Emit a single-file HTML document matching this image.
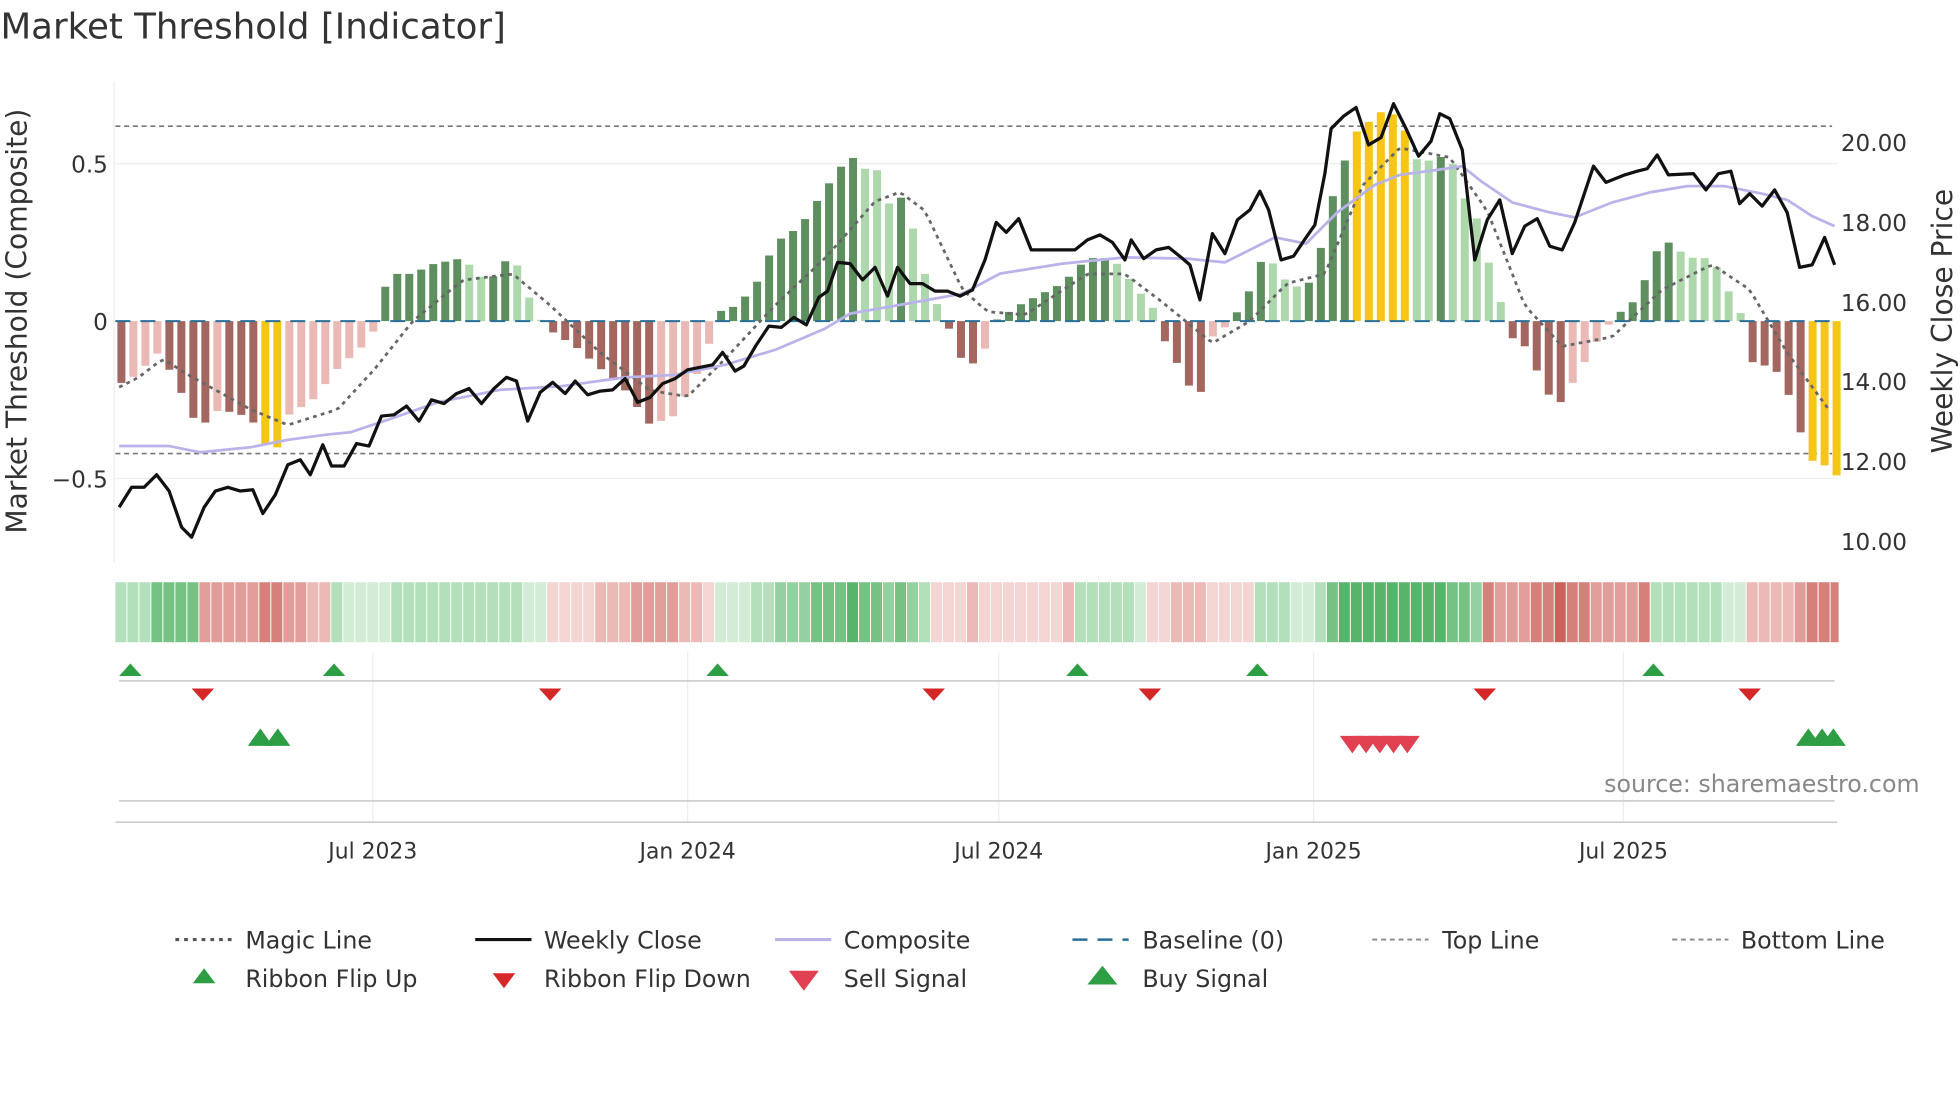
<!DOCTYPE html>
<html><head><meta charset="utf-8"><style>
html,body{margin:0;padding:0;background:#fff;}
svg{display:block;font-family:"DejaVu Sans","Liberation Sans",sans-serif;}
</style></head><body>
<svg id="s" width="1960" height="1102" viewBox="0 0 1568 882" xmlns="http://www.w3.org/2000/svg">
<rect width="1568" height="882" fill="#fff"/>
<text x="0" y="31" font-size="28.5" fill="#333">Market Threshold [Indicator]</text>
<g id="grid"></g>
<g id="bars"></g>
<g id="lines"></g>
<g id="rib"></g>
<g id="sig"></g>
<g font-size="18.5" fill="#333">
<text x="86" y="138" text-anchor="end">0.5</text>
<text x="86" y="264" text-anchor="end">0</text>
<text x="86" y="390" text-anchor="end">−0.5</text>
<text x="1473" y="121">20.00</text>
<text x="1473" y="185">18.00</text>
<text x="1473" y="249">16.00</text>
<text x="1473" y="312">14.00</text>
<text x="1473" y="376">12.00</text>
<text x="1473" y="440">10.00</text>
<text transform="translate(21,257) rotate(-90)" text-anchor="middle" font-size="22.5">Market Threshold (Composite)</text>
<text transform="translate(1562,257) rotate(-90)" text-anchor="middle" font-size="22.5">Weekly Close Price</text>
<g font-size="17.5" text-anchor="middle">
<text x="298" y="687">Jul 2023</text><text x="550" y="687">Jan 2024</text><text x="799" y="687">Jul 2024</text><text x="1051" y="687">Jan 2025</text><text x="1299" y="687">Jul 2025</text>
</g>
<text x="1536" y="634" text-anchor="end" fill="#888" font-size="19">source: sharemaestro.com</text>
</g>
<g font-size="19" fill="#333">
<line x1="140" y1="752" x2="185" y2="752" stroke="#555" stroke-width="2.5" stroke-dasharray="3,4"/><text x="196" y="759">Magic Line</text>
<line x1="380" y1="752" x2="425" y2="752" stroke="#111" stroke-width="2.5"/><text x="435" y="759">Weekly Close</text>
<line x1="620" y1="752" x2="665" y2="752" stroke="#b9b3ea" stroke-width="2.5"/><text x="675" y="759">Composite</text>
<line x1="858" y1="752" x2="903" y2="752" stroke="#2a6f97" stroke-width="2" stroke-dasharray="12,8"/><text x="914" y="759">Baseline (0)</text>
<line x1="1098" y1="752" x2="1143" y2="752" stroke="#888" stroke-width="1.5" stroke-dasharray="4,3"/><text x="1154" y="759">Top Line</text>
<line x1="1338" y1="752" x2="1383" y2="752" stroke="#888" stroke-width="1.5" stroke-dasharray="4,3"/><text x="1393" y="759">Bottom Line</text>
<polygon points="163,775 172,787 154,787" fill="#2e9e44"/><text x="196" y="790">Ribbon Flip Up</text>
<polygon points="394,779 412,779 403,791" fill="#d62728"/><text x="435" y="790">Ribbon Flip Down</text>
<polygon points="631,777 655,777 643,793" fill="#e04050"/><text x="675" y="790">Sell Signal</text>
<polygon points="882,773 894,788 870,788" fill="#2e9e44"/><text x="914" y="790">Buy Signal</text>
</g>
</svg>
<script>
const NS="http://www.w3.org/2000/svg";
function el(p,t,a){const e=document.createElementNS(NS,t);for(const k in a)e.setAttribute(k,a[k]);document.getElementById(p).appendChild(e);return e;}
function interp(keys,x){if(x<=keys[0][0])return keys[0][1];for(let i=1;i<keys.length;i++){if(x<=keys[i][0]){const a=keys[i-1],b=keys[i];return a[1]+(b[1]-a[1])*(x-a[0])/(b[0]-a[0]);}}return keys[keys.length-1][1];}
function pairs(a){const r=[];for(let i=0;i<a.length;i+=2)r.push([a[i],a[i+1]]);return r;}
const Y=v=>257-252*v;
el("grid","line",{x1:92,y1:131,x2:1470,y2:131,stroke:"#eee","stroke-width":1});
el("grid","line",{x1:92,y1:383,x2:1470,y2:383,stroke:"#eee","stroke-width":1});
el("grid","line",{x1:91,y1:65,x2:91,y2:450,stroke:"#eee","stroke-width":1});
el("grid","line",{x1:92,y1:101,x2:1466,y2:101,stroke:"#777","stroke-width":1.3,"stroke-dasharray":"4,3"});
el("grid","line",{x1:92,y1:363,x2:1466,y2:363,stroke:"#777","stroke-width":1.3,"stroke-dasharray":"4,3"});
[298,550,799,1051,1299].forEach(x=>el("grid","line",{x1:x,y1:522,x2:x,y2:658,stroke:"#eee","stroke-width":1}));
el("grid","line",{x1:95,y1:545,x2:1468,y2:545,stroke:"#ccc","stroke-width":1.3});
el("grid","line",{x1:95,y1:641,x2:1468,y2:641,stroke:"#ccc","stroke-width":1.3});
el("grid","line",{x1:92,y1:658,x2:1470,y2:658,stroke:"#ccc","stroke-width":1.3});
const bk=pairs([95,-0.2,110,-0.17,125,-0.1,140,-0.18,152,-0.3,162,-0.33,175,-0.28,195,-0.3,205,-0.33,215,-0.42,222,-0.4,230,-0.3,250,-0.25,270,-0.15,290,-0.08,299,-0.03,303,0.08,315,0.15,330,0.15,345,0.18,370,0.2,390,0.12,410,0.22,420,0.1,430,0.02,437,-0.02,440,-0.03,460,-0.08,480,-0.15,500,-0.22,520,-0.33,540,-0.3,560,-0.15,572,-0.02,575,0.03,590,0.05,605,0.12,620,0.25,640,0.3,660,0.42,680,0.53,690,0.48,700,0.5,710,0.37,720,0.4,730,0.3,740,0.15,750,0.05,758,0.0,763,-0.1,777,-0.14,787,-0.1,795,0,800,0.01,815,0.05,830,0.08,850,0.12,870,0.2,890,0.2,910,0.1,925,0.03,930,-0.05,940,-0.12,950,-0.2,960,-0.24,970,-0.05,980,-0.02,990,0.03,1000,0.1,1010,0.2,1020,0.18,1030,0.12,1045,0.1,1055,0.2,1065,0.38,1075,0.5,1085,0.6,1110,0.68,1125,0.6,1135,0.5,1160,0.53,1170,0.4,1180,0.35,1190,0.2,1200,0.08,1205,-0.04,1220,-0.08,1235,-0.2,1245,-0.28,1255,-0.22,1265,-0.15,1280,-0.05,1293,0.02,1305,0.05,1315,0.12,1325,0.22,1335,0.25,1345,0.22,1355,0.2,1370,0.2,1385,0.08,1395,0.01,1402,-0.13,1420,-0.15,1430,-0.22,1440,-0.34,1446,-0.44,1458,-0.45,1468,-0.49]);
let prev=0;
for(let i=0;i<144;i++){const cx=92+i*9.6+4.8;if(cx>1471)break;const v=interp(bk,cx);let c;
 if(v>0.57||v<-0.39)c="#f5c518";else if(v>=0)c=(v>=prev?"#5e8f5e":"#acd8ac");else c=(v<=prev?"#a3675f":"#eab9b5");
 const y=Math.min(Y(0),Y(v)),h=Math.abs(Y(v)-Y(0));el("bars","rect",{x:cx-3.2,y:y,width:6.4,height:Math.max(h,1),fill:c});prev=v;}
el("bars","line",{x1:92,y1:257,x2:1468,y2:257,stroke:"#2a6f97","stroke-width":1.6,"stroke-dasharray":"12,8"});
const mk=pairs([95,-0.21,110,-0.18,130,-0.12,150,-0.17,200,-0.28,230,-0.33,270,-0.28,300,-0.15,330,0,370,0.13,410,0.15,440,0.05,480,-0.1,520,-0.22,550,-0.24,580,-0.12,620,0.05,660,0.2,700,0.38,720,0.41,740,0.35,770,0.1,790,0.03,820,0.02,870,0.15,900,0.15,930,0.06,970,-0.07,1000,0,1030,0.12,1060,0.15,1090,0.43,1120,0.55,1160,0.52,1190,0.35,1220,0.05,1250,-0.08,1290,-0.05,1330,0.1,1370,0.18,1400,0.1,1430,-0.1,1465,-0.29]);
let d="";for(let x=95;x<=1466;x+=4){d+=(x==95?"M":"L")+x+","+Y(interp(mk,x)).toFixed(1);}
el("lines","path",{d:d,fill:"none",stroke:"#666","stroke-width":2.2,"stroke-dasharray":"3,3.5"});
const ck=pairs([95,357,135,357,160,362,200,358,230,352,260,348,280,346,310,336,350,322,400,312,450,309,500,302,540,300,580,292,620,280,660,263,680,251,720,244,770,235,800,219,850,211,900,206,950,207,980,210,1000,200,1020,190,1045,195,1070,170,1100,148,1120,140,1150,136,1170,133,1185,145,1210,162,1240,170,1260,174,1290,162,1320,154,1350,149,1380,149,1410,155,1430,160,1450,173,1468,181]);
el("lines","path",{d:"M"+ck.map(p=>p.join(",")).join("L"),fill:"none",stroke:"#b9b3ea","stroke-width":2.2,"stroke-linejoin":"round"});
const wk=[95,406,105,390,115,390,125,380,135,393,145,422,153,430,163,406,172,393,182,390,192,393,202,392,210,411,220,396,230,372,240,368,248,380,258,356,265,373,275,373,285,355,295,357,305,333,315,332,325,325,335,337,345,320,355,323,365,315,375,311,385,323,395,311,405,302,413,305,422,337,432,314,442,306,452,315,460,305,470,316,480,313,490,312,500,303,510,322,520,318,530,307,540,303,550,296,560,294,570,292,578,282,588,297,595,293,605,276,615,261,625,262,635,254,645,260,655,238,662,233,670,210,680,211,690,224,700,214,710,237,718,214,728,227,738,227,748,233,758,233,768,237,778,232,788,208,797,178,805,186,815,175,825,200,850,200,860,200,870,192,880,188,890,194,900,208,905,192,915,207,925,200,935,198,945,206,952,212,960,240,970,187,980,203,990,176,1000,168,1008,153,1015,168,1025,208,1035,205,1045,190,1052,180,1060,139,1065,103,1075,93,1085,86,1095,116,1105,110,1115,83,1125,103,1135,125,1145,113,1152,91,1160,95,1170,120,1180,208,1190,176,1200,160,1210,203,1220,181,1230,175,1240,197,1250,200,1260,178,1275,133,1285,146,1300,140,1310,137,1318,135,1326,124,1335,140,1355,139,1365,152,1375,139,1385,137,1392,163,1400,155,1410,165,1420,152,1430,170,1440,214,1450,212,1460,190,1468,212];
el("lines","path",{d:"M"+pairs(wk).map(p=>p.join(",")).join("L"),fill:"none",stroke:"#111","stroke-width":2.6,"stroke-linejoin":"round"});
const segs=[[92,158,1],[158,263,-1],[263,437,1],[437,570,-1],[570,742,1],[742,858,-1],[858,915,1],[915,1003,-1],[1003,1184,1],[1184,1319,-1],[1319,1396,1],[1396,1472,-1]];
const G=["#d2ecd6","#b4dfbb","#95d0a0","#76c285","#57b46b"],R=["#f3d6d4","#ebbab7","#e09d99","#d5807b","#c9615c"];
for(let i=0;i<144;i++){const x0=92+i*9.6,cx=x0+4.8;if(x0>1470)break;let s=segs.find(s=>cx>=s[0]&&cx<s[1])||segs[segs.length-1];
 const v=Math.abs(interp(bk,cx));let lvl=Math.min(4,Math.floor(v*8+ (s[2]<0&&cx>1184&&cx<1320?2:0)));
 if(cx<158&&cx>118)lvl=3;
 const c=(s[2]>0?G:R)[lvl];el("rib","rect",{x:x0,y:466,width:Math.min(9.6,1472-x0)-0.8,height:48,fill:c});}
[104,267,574,862,1006,1323].forEach(x=>el("sig","polygon",{points:`${x},531 ${x+9},541 ${x-9},541`,fill:"#2e9e44"}));
[162,440,747,920,1188,1400].forEach(x=>el("sig","polygon",{points:`${x-9},551 ${x+9},551 ${x},561`,fill:"#d62728"}));
[208,222,1447,1458,1467].forEach(x=>el("sig","polygon",{points:`${x},583 ${x+10},597 ${x-10},597`,fill:"#2e9e44"}));
[1082,1093,1104,1115,1126].forEach(x=>el("sig","polygon",{points:`${x-10},589 ${x+10},589 ${x},603`,fill:"#e04050"}));
</script>
</body></html>
